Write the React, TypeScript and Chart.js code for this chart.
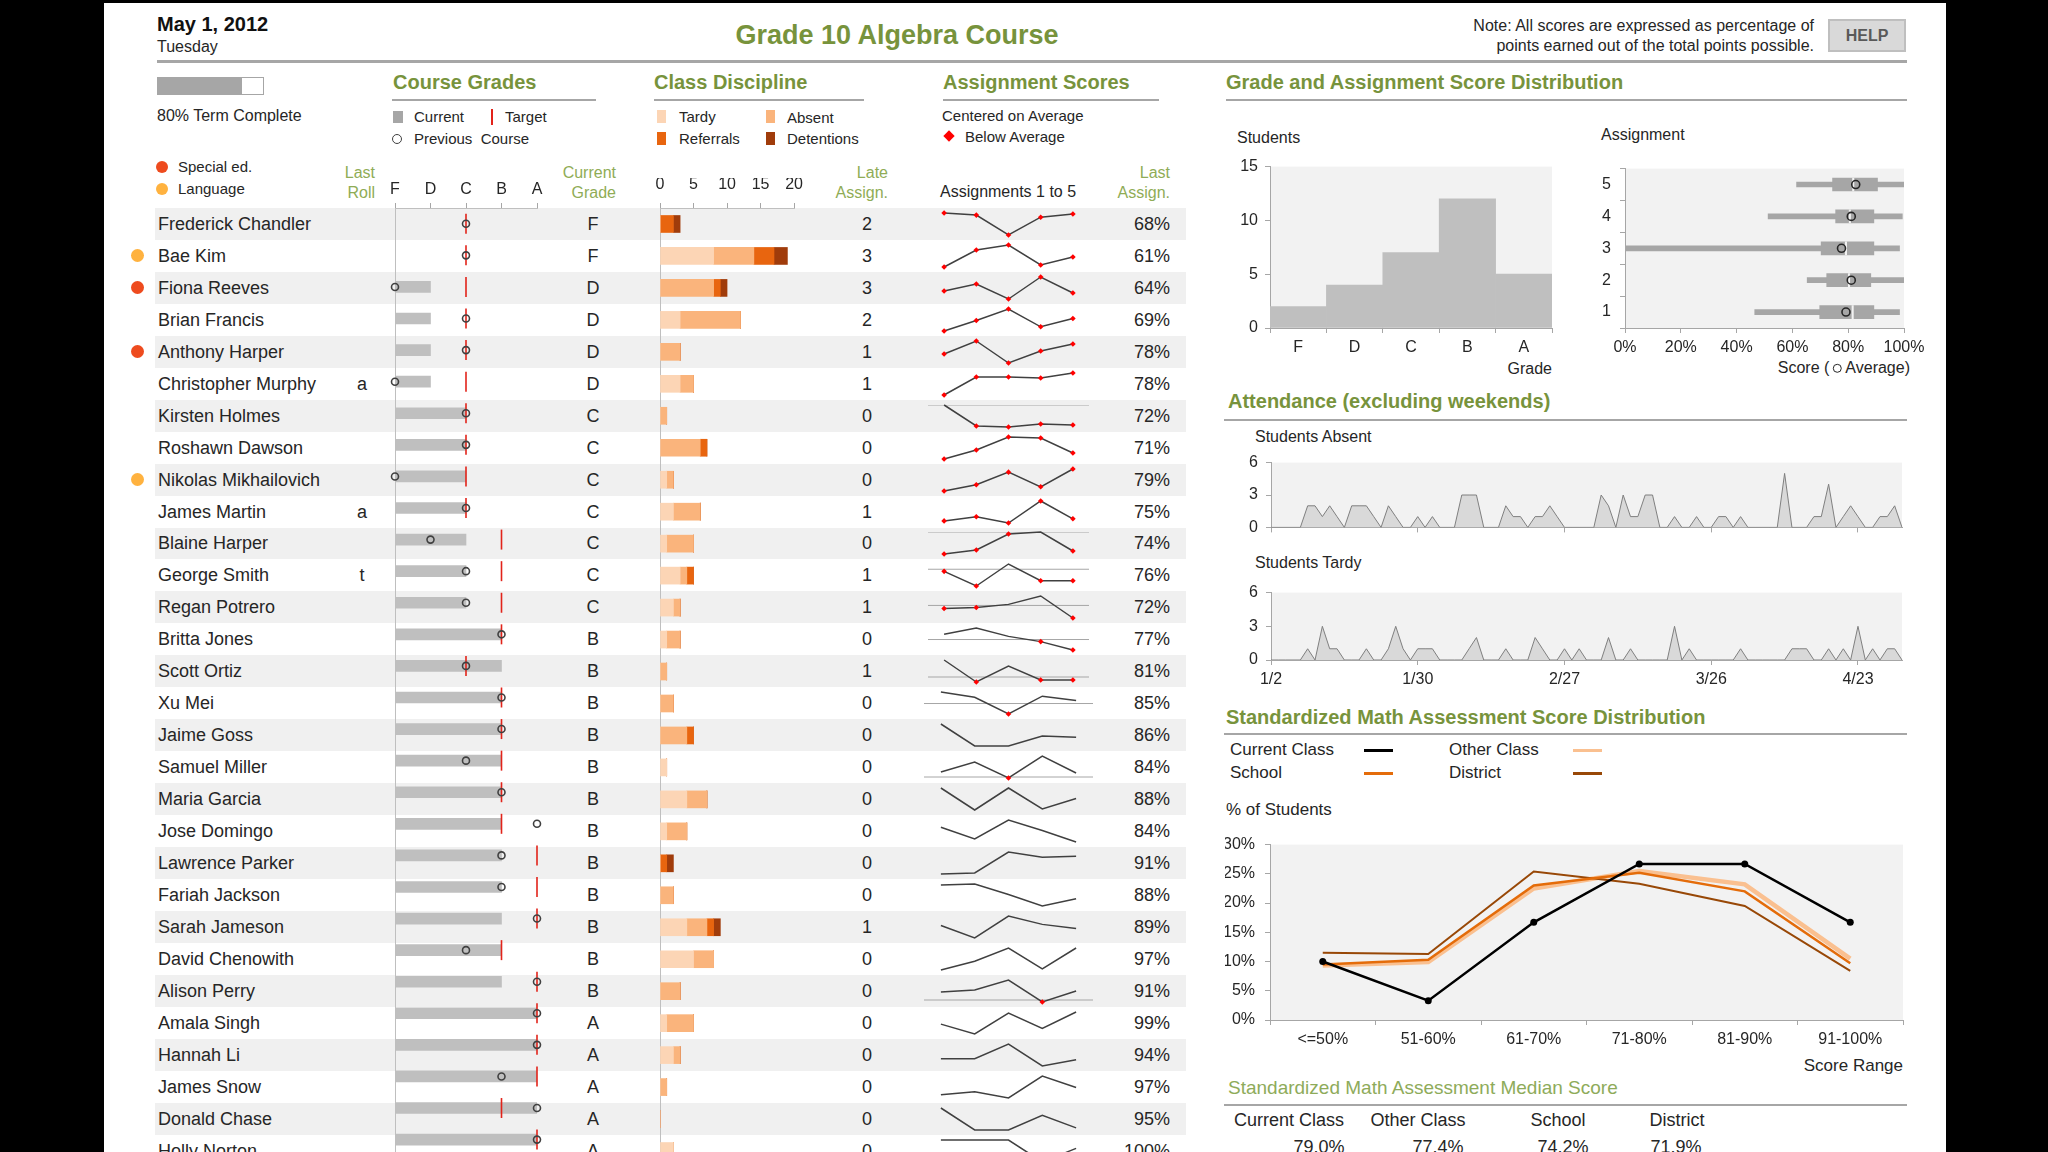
import React, { useEffect, useRef } from 'react';
import { Chart, registerables } from 'chart.js';
Chart.register(...registerables);

const FONT = "'Liberation Sans', Arial, Helvetica, sans-serif";
Chart.defaults.font.family = FONT;
Chart.defaults.color = '#262626';

const GREEN = '#77933c';
const HEAD_GREEN = '#8fac56';
const TEXT = '#262626';
const RULE = '#a6a6a6';

// ---------------- data ----------------
const students = [
  'Frederick Chandler', 'Bae Kim', 'Fiona Reeves', 'Brian Francis', 'Anthony Harper',
  'Christopher Murphy', 'Kirsten Holmes', 'Roshawn Dawson', 'Nikolas Mikhailovich', 'James Martin',
  'Blaine Harper', 'George Smith', 'Regan Potrero', 'Britta Jones', 'Scott Ortiz',
  'Xu Mei', 'Jaime Goss', 'Samuel Miller', 'Maria Garcia', 'Jose Domingo',
  'Lawrence Parker', 'Fariah Jackson', 'Sarah Jameson', 'David Chenowith', 'Alison Perry',
  'Amala Singh', 'Hannah Li', 'James Snow', 'Donald Chase', 'Holly Norton',
];
const studentFlags = ['', 'language', 'special', '', 'special', '', '', '', 'language', '',
  '', '', '', '', '', '', '', '', '', '', '', '', '', '', '', '', '', '', '', ''];
const lastRoll = ['', '', '', '', '', 'a', '', '', '', 'a', '', 't', '', '', '',
  '', '', '', '', '', '', '', '', '', '', '', '', '', '', ''];
const gradeLetters = ['F', 'D', 'C', 'B', 'A'];
const currentGrade = [0, 0, 1, 1, 1, 1, 2, 2, 2, 2, 2, 2, 2, 3, 3, 3, 3, 3, 3, 3, 3, 3, 3, 3, 3, 4, 4, 4, 4, 4];
const previousGrade = [2, 2, 0, 2, 2, 0, 2, 2, 0, 2, 1, 2, 2, 3, 2, 3, 3, 2, 3, 4, 3, 3, 4, 2, 4, 4, 4, 3, 4, 4];
const targetGrade = [2, 2, 2, 2, 2, 2, 2, 2, 2, 2, 3, 3, 3, 3, 2, 3, 3, 3, 3, 3, 4, 4, 4, 3, 4, 4, 4, 4, 3, 4];

const tardies = [0, 8, 0, 3, 0, 3, 0, 0, 1, 2, 1, 3, 2, 1, 0, 0, 0, 1, 4, 1, 0, 0, 4, 5, 0, 1, 2, 0, 0, 2];
const absences = [0, 6, 8, 9, 3, 2, 1, 6, 1, 4, 4, 1, 1, 2, 1, 2, 4, 0, 3, 3, 0, 2, 3, 3, 3, 4, 1, 1, 0, 0];
const referrals = [2, 3, 1, 0, 0, 0, 0, 1, 0, 0, 0, 1, 0, 0, 0, 0, 1, 0, 0, 0, 1, 0, 1, 0, 0, 0, 0, 0, 0, 0];
const detentions = [1, 2, 1, 0, 0, 0, 0, 0, 0, 0, 0, 0, 0, 0, 0, 0, 0, 0, 0, 0, 1, 0, 1, 0, 0, 0, 0, 0, 0, 0];

const lateAssignments = [2, 3, 3, 2, 1, 1, 0, 0, 0, 1, 0, 1, 1, 0, 1, 0, 0, 0, 0, 0, 0, 0, 1, 0, 0, 0, 0, 0, 0, 0];
const lastAssignment = [68, 61, 64, 69, 78, 78, 72, 71, 79, 75, 74, 76, 72, 77, 81, 85, 86, 84, 88, 84, 91, 88, 89, 97, 91, 99, 94, 97, 95, 100];

// assignment 1..5 score minus class average (points)
const assignmentVsAverage = [
  [-3, -5, -24, -7, -4], [-25, -8, -3, -23, -15], [-17, -10, -25, -3, -19], [-24, -14, -3, -20, -12],
  [-16, -3, -25, -13, -6], [-25, -7, -7, -8, -3], [0, -21, -22, -19, -20], [-25, -16, -3, -4, -19],
  [-25, -19, -7, -21, -4], [-23, -19, -25, -4, -21], [-22, -18, -2, 0, -19], [-2, -16, 5, -11, -11],
  [-3, -2, 1, 9, -12], [5, 11, 3, -2, -10], [17, -5, 11, -3, -3], [11, 6, -10, 7, 3],
  [23, 3, 3, 12, 11], [5, 15, -1, 21, 4], [23, 2, 23, 3, 13], [16, 5, 23, 13, 2],
  [2, 3, 23, 18, 19], [22, 23, 13, 2, 9], [13, 1, 22, 14, 10], [2, 10, 22, 3, 22],
  [8, 10, 20, -2, 9], [11, 2, 21, 7, 22], [8, 8, 22, 1, 7], [4, 7, 1, 22, 11],
  [22, 1, 1, 15, 3], [22, 22, 22, 1, 14],
];

const gradeCounts = [2, 4, 7, 12, 5];

const assignmentLabels = ['5', '4', '3', '2', '1'];
const scoreMin = [61.5, 51.3, 0, 65.3, 46.5];
const scoreQ1 = [74.4, 75.5, 70.3, 72.3, 69.8];
const scoreMedian = [81.8, 80.6, 79.2, 80.3, 81.6];
const scoreQ3 = [90.5, 89.2, 89.2, 88.1, 89.2];
const scoreMax = [100, 99.4, 98.4, 100, 98.4];
const scoreAverage = [82.7, 81.1, 77.6, 81.1, 79.2];

const absentPerDay = [0, 0, 0, 0, 0, 2, 2, 1, 2, 1, 0, 2, 2, 2, 1, 0, 2, 1, 0, 0,
  1, 0, 1, 0, 0, 0, 3, 3, 3, 0, 0, 0, 2, 1, 1, 0, 1, 1, 2, 1,
  0, 0, 0, 0, 0, 3, 2, 0, 3, 1, 1, 3, 3, 0, 0, 1, 0, 0, 1, 0,
  0, 1, 1, 0, 1, 0, 0, 0, 0, 0, 5, 0, 0, 0, 1, 1, 4, 0, 1, 2,
  1, 0, 0, 1, 1, 2, 0];
const tardyPerDay = [0, 0, 0, 0, 0, 1, 0, 3, 1, 1, 0, 0, 0, 1, 0, 0, 1, 3, 1, 0,
  1, 1, 1, 0, 0, 0, 0, 1, 2, 0, 0, 0, 1, 0, 0, 0, 2, 1, 0, 0,
  1, 0, 1, 0, 0, 0, 2, 0, 0, 1, 0, 0, 0, 0, 0, 3, 0, 1, 0, 0,
  0, 0, 0, 0, 1, 0, 0, 0, 0, 0, 0, 1, 1, 1, 0, 0, 1, 0, 1, 0,
  3, 0, 1, 0, 1, 1, 0];
// weekdays starting Monday 1/2/2012
const schoolDays: string[] = (() => {
  const out: string[] = [];
  const d = new Date(2012, 0, 2);
  while (out.length < absentPerDay.length) {
    const wd = d.getDay();
    if (wd !== 0 && wd !== 6) out.push(`${d.getMonth() + 1}/${d.getDate()}`);
    d.setDate(d.getDate() + 1);
  }
  return out;
})();

const scoreRanges = ['<=50%', '51-60%', '61-70%', '71-80%', '81-90%', '91-100%'];
const currentClassDist = [10, 3.3, 16.7, 26.7, 26.7, 16.7];
const otherClassDist = [9.3, 9.9, 22.5, 25.5, 23.2, 10.5];
const schoolDist = [9.5, 10.3, 23.0, 25.2, 22.0, 9.7];
const districtDist = [11.5, 11.3, 25.4, 23.3, 19.5, 8.4];

const medianGroups = ['Current Class', 'Other Class', 'School', 'District'];
const medianScores = ['79.0%', '77.4%', '74.2%', '71.9%'];

// ---------------- helpers ----------------
const ROW_TOP = 208;
const ROW_H = 31.95;
const rowCenter = (i: number) => ROW_TOP + ROW_H / 2 + i * ROW_H;

const fixW = (w: number) => (s: any) => { s.width = w; };
const fixH = (h: number) => (s: any) => { s.height = h; };
const plotBg = (color: string) => ({
  id: 'plotBg',
  beforeDraw(chart: any) {
    const { ctx, chartArea: a } = chart;
    ctx.save();
    ctx.fillStyle = color;
    ctx.fillRect(a.left, a.top, a.right - a.left, a.bottom - a.top);
    ctx.restore();
  },
});
const baseOpts = {
  animation: false,
  responsive: false,
  events: [] as string[],
  plugins: { legend: { display: false }, tooltip: { enabled: false } },
};
const tickFont = { size: 16, family: FONT };

function ChartCanvas({ left, top, width, height, make }: any) {
  const ref = useRef<HTMLCanvasElement>(null);
  useEffect(() => {
    const chart = new Chart(ref.current as HTMLCanvasElement, make());
    return () => chart.destroy();
  }, []);
  return (
    <canvas ref={ref} width={width} height={height}
      style={{ position: 'absolute', left, top, width, height }} />
  );
}

function T({ x, y, children, size = 16, bold = false, color = TEXT, align = 'left' }: any) {
  const tx = align === 'center' ? '-50%' : align === 'right' ? '-100%' : '0';
  return (
    <div style={{
      position: 'absolute', left: x, top: y, transform: `translate(${tx}, -50%)`,
      fontSize: size, fontWeight: bold ? 700 : 400, color, whiteSpace: 'nowrap',
      lineHeight: 1.15, fontFamily: FONT,
    }}>{children}</div>
  );
}
function R({ x, y, w, h, bg, style }: any) {
  return <div style={{ position: 'absolute', left: x, top: y, width: w, height: h, background: bg, ...style }} />;
}

// ---------------- chart configs ----------------
const courseConfig = (): any => ({
  type: 'bar',
  data: {
    labels: students,
    datasets: [
      {
        type: 'scatter', label: 'Previous Course',
        data: students.map((s, i) => ({ x: previousGrade[i], y: s })),
        pointRadius: 3.5, pointBorderWidth: 1.6, pointBorderColor: '#404040',
        pointBackgroundColor: 'rgba(0,0,0,0)', clip: false,
      },
      {
        type: 'scatter', label: 'Target',
        data: students.map((s, i) => ({ x: targetGrade[i], y: s })),
        pointStyle: 'line', rotation: 90, pointRadius: 10, pointBorderWidth: 1.6,
        pointBorderColor: '#e2231a', clip: false,
      },
      { type: 'bar', label: 'Current', data: currentGrade, backgroundColor: '#bfbfbf', barThickness: 11 },
    ],
  },
  options: {
    ...baseOpts,
    indexAxis: 'y',
    layout: { padding: { top: 0, right: 12, bottom: 0, left: 0 } },
    scales: {
      x: {
        type: 'linear', position: 'top', min: 0, max: 4,
        ticks: { stepSize: 1, callback: (v: number) => gradeLetters[v] ?? '', font: tickFont, color: TEXT, padding: 4 },
        grid: { drawOnChartArea: false, tickLength: 5, color: '#a6a6a6' },
        border: { color: '#bfbfbf' },
        afterFit: fixH(30),
      },
      y: {
        type: 'category', offset: true,
        ticks: { display: false }, grid: { display: false },
        border: { display: true, color: '#bfbfbf' },
        afterFit: fixW(15),
      },
    },
  },
});

const disciplineConfig = (): any => ({
  type: 'bar',
  data: {
    labels: students,
    datasets: [
      { label: 'Tardy', data: tardies, backgroundColor: '#fcd5b5', barThickness: 17 },
      { label: 'Absent', data: absences, backgroundColor: '#fab47c', barThickness: 17 },
      { label: 'Referrals', data: referrals, backgroundColor: '#e8650f', barThickness: 17 },
      { label: 'Detentions', data: detentions, backgroundColor: '#a03c0b', barThickness: 17 },
    ],
  },
  options: {
    ...baseOpts,
    indexAxis: 'y',
    layout: { padding: { top: 0, right: 12, bottom: 0, left: 0 } },
    scales: {
      x: {
        type: 'linear', position: 'top', min: 0, max: 20, stacked: true,
        ticks: { stepSize: 5, font: tickFont, color: TEXT, padding: 9 },
        grid: { drawOnChartArea: false, tickLength: 5, color: '#a6a6a6' },
        border: { color: '#bfbfbf' },
        afterFit: fixH(30),
      },
      y: {
        type: 'category', offset: true, stacked: true,
        ticks: { display: false }, grid: { display: false },
        border: { display: true, color: '#bfbfbf' },
        afterFit: fixW(15),
      },
    },
  },
});

const sparkConfig = (vals: number[]) => (): any => ({
  type: 'line',
  data: {
    datasets: [
      {
        data: vals.map((v, i) => ({ x: i, y: v })),
        borderColor: '#404040', borderWidth: 1.5, tension: 0,
        pointStyle: 'rectRot',
        pointRadius: (c: any) => (c.raw && c.raw.y < 0 ? 2.8 : 0),
        pointBackgroundColor: '#ff0000', pointBorderWidth: 0, clip: false,
      },
      {
        data: [{ x: -0.5, y: 0 }, { x: 4.5, y: 0 }],
        borderColor: '#a6a6a6', borderWidth: 1, pointRadius: 0,
      },
    ],
  },
  options: {
    ...baseOpts,
    layout: { padding: { top: 5, bottom: 5, left: 0, right: 0 } },
    scales: {
      x: { type: 'linear', min: -0.5, max: 4.5, display: false },
      y: { type: 'linear', min: Math.min(...vals), max: Math.max(...vals), display: false },
    },
  },
});

const histConfig = (): any => ({
  type: 'bar',
  data: {
    labels: gradeLetters,
    datasets: [{ data: gradeCounts, backgroundColor: '#bfbfbf', categoryPercentage: 1, barPercentage: 1 }],
  },
  options: {
    ...baseOpts,
    layout: { padding: { top: 14, right: 10, bottom: 0, left: 0 } },
    scales: {
      x: {
        grid: { offset: true, drawOnChartArea: false, tickLength: 5, color: '#a6a6a6' },
        border: { color: '#a6a6a6' },
        ticks: { font: tickFont, color: TEXT, padding: 5 },
        afterFit: fixH(30),
      },
      y: {
        min: 0, max: 15,
        ticks: { stepSize: 5, font: tickFont, color: TEXT, padding: 7 },
        grid: { drawOnChartArea: false, tickLength: 5, color: '#a6a6a6' },
        border: { color: '#a6a6a6' },
        afterFit: fixW(40),
      },
    },
  },
  plugins: [plotBg('#f2f2f2')],
});

const boxConfig = (): any => ({
  type: 'bar',
  data: {
    labels: assignmentLabels,
    datasets: [
      {
        type: 'scatter', data: assignmentLabels.map((a, i) => ({ x: scoreAverage[i], y: a })),
        pointRadius: 4, pointBorderWidth: 1.6, pointBorderColor: '#262626',
        pointBackgroundColor: 'rgba(0,0,0,0)', clip: false,
      },
      {
        type: 'bar', grouped: false, barThickness: 13, backgroundColor: '#f2f2f2',
        data: assignmentLabels.map((_, i) => [scoreMedian[i] - 0.25, scoreMedian[i] + 0.25]),
      },
      {
        type: 'bar', grouped: false, barThickness: 13, backgroundColor: '#a6a6a6',
        data: assignmentLabels.map((_, i) => [scoreQ1[i], scoreQ3[i]]),
      },
      {
        type: 'bar', grouped: false, barThickness: 5, backgroundColor: '#a6a6a6',
        data: assignmentLabels.map((_, i) => [scoreMin[i], scoreMax[i]]),
      },
    ],
  },
  options: {
    ...baseOpts,
    indexAxis: 'y',
    layout: { padding: { top: 14, right: 30, bottom: 0, left: 0 } },
    scales: {
      x: {
        type: 'linear', min: 0, max: 100,
        ticks: { stepSize: 20, callback: (v: number) => v + '%', font: tickFont, color: TEXT, padding: 5 },
        grid: { drawOnChartArea: false, tickLength: 5, color: '#a6a6a6' },
        border: { color: '#a6a6a6' },
        afterFit: fixH(30),
      },
      y: {
        type: 'category', offset: true,
        ticks: { font: tickFont, color: TEXT, padding: 9 },
        grid: { offset: true, drawOnChartArea: false, tickLength: 5, color: '#a6a6a6' },
        border: { color: '#a6a6a6' },
        afterFit: fixW(35),
      },
    },
  },
  plugins: [plotBg('#f2f2f2')],
});

const attendanceConfig = (values: number[], showLabels: boolean, bottomH: number) => (): any => ({
  type: 'line',
  data: {
    labels: schoolDays,
    datasets: [{
      data: values, fill: 'origin', backgroundColor: '#d9d9d9', borderColor: '#7f7f7f',
      borderWidth: 1, pointRadius: 0, tension: 0,
    }],
  },
  options: {
    ...baseOpts,
    layout: { padding: { top: 13, right: 10, bottom: 0, left: 0 } },
    scales: {
      x: {
        type: 'category', offset: false,
        ticks: {
          autoSkip: false, maxRotation: 0, minRotation: 0, font: tickFont, color: TEXT, padding: 5,
          callback: (_v: any, i: number) => (showLabels && i % 20 === 0 ? schoolDays[i] : ''),
        },
        grid: {
          drawOnChartArea: false, tickLength: 5,
          color: (c: any) => (c.index % 20 === 0 ? '#a6a6a6' : 'rgba(0,0,0,0)'),
        },
        border: { color: '#a6a6a6' },
        afterFit: fixH(bottomH),
      },
      y: {
        min: 0, max: 6,
        ticks: { stepSize: 3, font: tickFont, color: TEXT, padding: 8 },
        grid: { drawOnChartArea: false, tickLength: 5, color: '#a6a6a6' },
        border: { color: '#a6a6a6' },
        afterFit: fixW(41),
      },
    },
  },
  plugins: [plotBg('#f2f2f2')],
});

const standardConfig = (): any => ({
  type: 'line',
  data: {
    labels: scoreRanges,
    datasets: [
      { label: 'Current Class', data: currentClassDist, borderColor: '#000000', borderWidth: 2.5, pointRadius: 3.5, pointBackgroundColor: '#000000', pointBorderWidth: 0, tension: 0 },
      { label: 'School', data: schoolDist, borderColor: '#e46c0a', borderWidth: 2.5, pointRadius: 0, tension: 0 },
      { label: 'District', data: districtDist, borderColor: '#984807', borderWidth: 2, pointRadius: 0, tension: 0 },
      { label: 'Other Class', data: otherClassDist, borderColor: '#fac090', borderWidth: 4.5, pointRadius: 0, tension: 0 },
    ],
  },
  options: {
    ...baseOpts,
    layout: { padding: { top: 13, right: 7, bottom: 0, left: 0 } },
    scales: {
      x: {
        offset: true,
        grid: { offset: true, drawOnChartArea: false, tickLength: 5, color: '#a6a6a6' },
        border: { color: '#a6a6a6' },
        ticks: { font: tickFont, color: TEXT, padding: 5, maxRotation: 0 },
        afterFit: fixH(30),
      },
      y: {
        min: 0, max: 30,
        ticks: { stepSize: 5, callback: (v: number) => v + '%', font: tickFont, color: TEXT, padding: 10 },
        grid: { drawOnChartArea: false, tickLength: 5, color: '#a6a6a6' },
        border: { color: '#a6a6a6' },
        afterFit: fixW(45),
      },
    },
  },
  plugins: [plotBg('#f2f2f2')],
});

// ---------------- component ----------------
export default function App() {
  return (
    <div style={{
      position: 'fixed', left: 0, top: 0, width: 2048, height: 1152, overflow: 'hidden',
      background: '#000', fontFamily: FONT, color: TEXT,
    }}>
      <R x={104} y={3} w={1842} h={1149} bg="#ffffff" />

      {/* header */}
      <T x={157} y={24} size={20} bold color="#111">May 1, 2012</T>
      <T x={157} y={47} size={16}>Tuesday</T>
      <T x={897} y={36} size={27} bold color={GREEN} align="center">Grade 10 Algebra Course</T>
      <T x={1814} y={26} size={16} align="right">Note: All scores are expressed as percentage of</T>
      <T x={1814} y={46} size={16} align="right">points earned out of the total points possible.</T>
      <div style={{
        position: 'absolute', left: 1828, top: 19, width: 78, height: 33, boxSizing: 'border-box',
        background: '#d9d9d9', border: '2px solid #bfbfbf', display: 'flex', alignItems: 'center',
        justifyContent: 'center', fontSize: 16, fontWeight: 700, color: '#595959',
      }}>HELP</div>
      <R x={157} y={60} w={1750} h={3} bg={RULE} />

      {/* term progress */}
      <div style={{ position: 'absolute', left: 157, top: 77, width: 107, height: 18, boxSizing: 'border-box', border: '1.5px solid #a6a6a6', background: '#fff' }}>
        <div style={{ width: '80%', height: '100%', background: '#a6a6a6' }} />
      </div>
      <T x={157} y={116} size={16}>80% Term Complete</T>
      <div style={{ position: 'absolute', left: 156, top: 161, width: 12, height: 12, borderRadius: 6, background: '#ee4b1e' }} />
      <T x={178} y={167} size={15}>Special ed.</T>
      <div style={{ position: 'absolute', left: 156, top: 183, width: 12, height: 12, borderRadius: 6, background: '#ffb23f' }} />
      <T x={178} y={189} size={15}>Language</T>

      {/* section headings */}
      <T x={393} y={82} size={20} bold color={GREEN}>Course Grades</T>
      <R x={392} y={99} w={204} h={2} bg={RULE} />
      <T x={654} y={82} size={20} bold color={GREEN}>Class Discipline</T>
      <R x={654} y={99} w={210} h={2} bg={RULE} />
      <T x={943} y={82} size={20} bold color={GREEN}>Assignment Scores</T>
      <R x={943} y={99} w={216} h={2} bg={RULE} />
      <T x={1226} y={82} size={20} bold color={GREEN}>Grade and Assignment Score Distribution</T>
      <R x={1226} y={99} w={681} h={2} bg={RULE} />

      {/* course grade legend */}
      <R x={393} y={111} w={10} h={12} bg="#a6a6a6" />
      <T x={414} y={117} size={15}>Current</T>
      <R x={491} y={109} w={2} h={16} bg="#e2231a" />
      <T x={505} y={117} size={15}>Target</T>
      <div style={{ position: 'absolute', left: 392, top: 134, width: 10, height: 10, boxSizing: 'border-box', borderRadius: 5, border: '1.5px solid #404040' }} />
      <T x={414} y={139} size={15}>Previous&nbsp; Course</T>

      {/* discipline legend */}
      <R x={657} y={110} w={9} h={13} bg="#fcd5b5" />
      <T x={679} y={117} size={15}>Tardy</T>
      <R x={766} y={110} w={9} h={13} bg="#fab47c" />
      <T x={787} y={118} size={15}>Absent</T>
      <R x={657} y={132} w={9} h={13} bg="#e8650f" />
      <T x={679} y={139} size={15}>Referrals</T>
      <R x={766} y={132} w={9} h={13} bg="#a03c0b" />
      <T x={787} y={139} size={15}>Detentions</T>

      {/* assignment legend */}
      <T x={942} y={116} size={15}>Centered on Average</T>
      <div style={{ position: 'absolute', left: 945, top: 132, width: 8, height: 8, background: '#ff0000', transform: 'rotate(45deg)' }} />
      <T x={965} y={137} size={15}>Below Average</T>

      {/* column headers */}
      <T x={375} y={173} size={16} color={HEAD_GREEN} align="right">Last</T>
      <T x={375} y={193} size={16} color={HEAD_GREEN} align="right">Roll</T>
      <T x={616} y={173} size={16} color={HEAD_GREEN} align="right">Current</T>
      <T x={616} y={193} size={16} color={HEAD_GREEN} align="right">Grade</T>
      <T x={888} y={173} size={16} color={HEAD_GREEN} align="right">Late</T>
      <T x={888} y={193} size={16} color={HEAD_GREEN} align="right">Assign.</T>
      <T x={940} y={192} size={16}>Assignments 1 to 5</T>
      <T x={1170} y={173} size={16} color={HEAD_GREEN} align="right">Last</T>
      <T x={1170} y={193} size={16} color={HEAD_GREEN} align="right">Assign.</T>

      {/* row bands */}
      {students.map((_, i) => (
        <R key={'b' + i} x={155} y={ROW_TOP + i * ROW_H} w={1031} h={ROW_H} bg={i % 2 === 0 ? '#f0f0f0' : 'transparent'} />
      ))}

      {/* charts in table */}
      <ChartCanvas left={380} top={178} width={169} height={989} make={courseConfig} />
      <ChartCanvas left={645} top={178} width={167} height={989} make={disciplineConfig} />
      {assignmentVsAverage.map((vals, i) => (
        <ChartCanvas key={'s' + i} left={924} top={rowCenter(i) - 16} width={169} height={32} make={sparkConfig(vals)} />
      ))}

      {/* row texts */}
      {students.map((name, i) => {
        const cy = rowCenter(i);
        return (
          <React.Fragment key={'r' + i}>
            {studentFlags[i] && (
              <div style={{
                position: 'absolute', left: 131, top: cy - 6.5, width: 13, height: 13, borderRadius: 7,
                background: studentFlags[i] === 'special' ? '#ee4b1e' : '#ffb23f',
              }} />
            )}
            <T x={158} y={cy} size={18}>{name}</T>
            {lastRoll[i] && <T x={362} y={cy} size={18} align="center">{lastRoll[i]}</T>}
            <T x={593} y={cy} size={18} align="center">{gradeLetters[currentGrade[i]]}</T>
            <T x={867} y={cy} size={18} align="center">{lateAssignments[i]}</T>
            <T x={1170} y={cy} size={18} align="right">{lastAssignment[i]}%</T>
          </React.Fragment>
        );
      })}

      {/* distribution charts */}
      <T x={1237} y={138} size={16}>Students</T>
      <ChartCanvas left={1230} top={150} width={332} height={208} make={histConfig} />
      <T x={1552} y={369} size={16} align="right">Grade</T>
      <T x={1601} y={135} size={16}>Assignment</T>
      <ChartCanvas left={1590} top={150} width={344} height={208} make={boxConfig} />
      <div style={{ position: 'absolute', left: 1910, top: 368, transform: 'translate(-100%, -50%)', fontSize: 16, whiteSpace: 'nowrap', lineHeight: 1.15, display: 'flex', alignItems: 'center' }}>
        Score (<span style={{ display: 'inline-block', width: 9, height: 9, boxSizing: 'border-box', borderRadius: 5, border: '1.6px solid #262626', margin: '0 4px 0 3px' }} />Average)
      </div>

      {/* attendance */}
      <T x={1228} y={401} size={20} bold color={GREEN}>Attendance (excluding weekends)</T>
      <R x={1224} y={419} w={683} h={2} bg={RULE} />
      <T x={1255} y={437} size={16}>Students Absent</T>
      <ChartCanvas left={1230} top={445} width={682} height={100} make={attendanceConfig(absentPerDay, false, 12)} />
      <T x={1255} y={563} size={16}>Students Tardy</T>
      <ChartCanvas left={1230} top={575} width={682} height={115} make={attendanceConfig(tardyPerDay, true, 30)} />

      {/* standardized */}
      <T x={1226} y={717} size={20} bold color={GREEN}>Standardized Math Assessment Score Distribution</T>
      <R x={1224} y={733} w={683} h={2} bg={RULE} />
      <T x={1230} y={750} size={17}>Current Class</T>
      <R x={1364} y={749} w={29} h={3} bg="#000000" />
      <T x={1449} y={750} size={17}>Other Class</T>
      <R x={1573} y={749} w={29} h={3} bg="#fac090" />
      <T x={1230} y={773} size={17}>School</T>
      <R x={1364} y={772} w={29} h={3} bg="#e46c0a" />
      <T x={1449} y={773} size={17}>District</T>
      <R x={1573} y={772} w={29} h={3} bg="#984807" />
      <T x={1226} y={810} size={17}>% of Students</T>
      <ChartCanvas left={1225} top={825} width={685} height={225} make={standardConfig} />
      <T x={1903} y={1066} size={17} align="right">Score Range</T>

      <T x={1228} y={1088} size={19} color="#8eab5a">Standardized Math Assessment Median Score</T>
      <R x={1224} y={1104} w={683} h={2} bg={RULE} />
      {medianGroups.map((g, i) => (
        <T key={'mg' + i} x={[1289, 1418, 1558, 1677][i]} y={1120} size={18} align="center">{g}</T>
      ))}
      {medianScores.map((v, i) => (
        <T key={'ms' + i} x={[1319, 1438, 1563, 1676][i]} y={1147} size={18} align="center">{v}</T>
      ))}
    </div>
  );
}
